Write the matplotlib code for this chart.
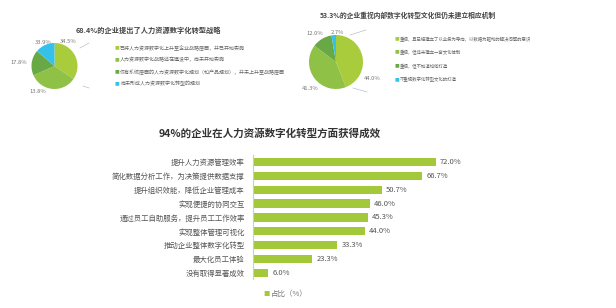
import numpy as np
import matplotlib
matplotlib.use("Agg")
import matplotlib.pyplot as plt
from matplotlib.lines import Line2D

plt.rcParams['font.family'] = ['Noto Sans CJK SC', 'DejaVu Sans']

# left pie
pie1_title = "68.4%的企业提出了人力资源数字化转型战略"
pie1_vals = [34.5, 33.9, 17.8, 13.8]
pie1_labels = ["已将人力资源数字化上升至企业战略层面，并已开始实施",
               "人力资源数字化战略还在建设中，尚未开始实施",
               "仅有系统层面的人力资源数字化规划（如产品规划），并未上升至战略层面",
               "尚未形成人力资源数字化转型的规划"]

# right pie
pie2_title = "53.3%的企业重视内部数字化转型文化但仍未建立相应机制"
pie2_vals = [44.0, 41.3, 12.0, 2.7]
pie2_labels = ["重视，且已经建立了以业务为导向，以数据为驱动的解决问题的意识",
               "重视，但还未建立一套文化体制",
               "重视，但不知道如何打造",
               "不重视数字化转型文化的打造"]

# bars
bar_title = "94%的企业在人力资源数字化转型方面获得成效"
bar_cats = ["提升人力资源管理效率", "简化数据分析工作，为决策提供数据支撑",
            "提升组织效能，降低企业管理成本", "实现便捷的协同交互",
            "通过员工自助服务，提升员工工作效率", "实现整体管理可视化",
            "推动企业整体数字化转型", "最大化员工体验", "没有取得显著成效"]
bar_vals = [72.0, 66.7, 50.7, 46.0, 45.3, 44.0, 33.3, 23.3, 6.0]
bar_legend = "占比（%）"

pie_colors = ["#a9cc3c", "#8fc147", "#68a845", "#35c1e9"]
bar_color = "#a3c83a"

W, H = 616, 308
fig = plt.figure(figsize=(W / 100, H / 100), dpi=100)
fig.patch.set_facecolor("white")


def px_axes(x0, y0, x1, y1):
    # pixel box (top-left origin) -> figure axes
    return fig.add_axes([x0 / W, 1 - y1 / H, (x1 - x0) / W, (y1 - y0) / H])


def draw_pie(cx, cy, r, vals, angles, dists):
    ax = px_axes(cx - r, cy - r, cx + r, cy + r)
    wedges, texts = ax.pie(vals, colors=pie_colors, startangle=90, counterclock=False,
                           labels=[f"{v:.1f}%" for v in vals],
                           textprops=dict(fontsize=4.2, color="#777777"))
    for t, a, d in zip(texts, angles, dists):
        t.set_position((d * np.cos(np.radians(a)), d * np.sin(np.radians(a))))
        t.set_ha("center")
        t.set_va("center")
    ax.set_xlim(-1, 1)
    ax.set_ylim(-1, 1)
    ax.set_aspect("equal")
    return ax


def draw_legend(x, ys, labels, fs):
    for y, lab, c in zip(ys, labels, pie_colors):
        fig.text(x / W, 1 - y / H, "■", color=c, fontsize=3.4, ha="left", va="center")
        fig.text((x + 5) / W, 1 - y / H, lab, color="#666666", fontsize=fs,
                 ha="left", va="center")


def line_px(x0, y0, x1, y1):
    fig.add_artist(Line2D([x0 / W, x1 / W], [1 - y0 / H, 1 - y1 / H],
                          color="#b8bfd0", lw=0.5))


# left pie
draw_pie(54.5, 66, 23, pie1_vals, [61.6, 116.6, 175, -123], [1.23, 1.12, 1.55, 1.3])
fig.text(148 / W, 1 - 30 / H, pie1_title, fontsize=5.2, fontweight="bold",
         color="#444444", ha="center", va="center")
draw_legend(115, [48, 60, 72, 84], pie1_labels, 3.6)
line_px(80, 48, 89, 43)
line_px(83, 86, 89, 88)

# right pie
draw_pie(336, 62, 27, pie2_vals, [-25, -134, 127, 88], [1.48, 1.39, 1.3, 1.11])
fig.text(408 / W, 1 - 15 / H, pie2_title, fontsize=4.9, fontweight="bold",
         color="#444444", ha="center", va="center")
draw_legend(395, [39, 52, 66, 80], pie2_labels, 3.2)
line_px(350, 35, 366, 30)
line_px(353, 88, 367, 92)

# bar chart
ax = px_axes(253, 155, 456, 278.5)
y = np.arange(len(bar_cats))
bars = ax.barh(y, bar_vals, height=0.6, color=bar_color)
ax.bar_label(bars, labels=[f"{v:.1f}%" for v in bar_vals], padding=3,
             fontsize=5.5, color="#555555")
ax.set_xlim(0, 80)
ax.set_ylim(8.4, -0.5)
ax.set_yticks(y)
ax.set_yticklabels(bar_cats, fontsize=5.35, color="#555555")
ax.tick_params(axis="y", length=0, pad=6)
ax.set_xticks([])
for s in ["top", "right", "bottom"]:
    ax.spines[s].set_visible(False)
ax.spines["left"].set_color("#cccccc")
ax.spines["left"].set_linewidth(0.8)

fig.text(270 / W, 1 - 133 / H, bar_title, fontsize=7.6, fontweight="bold",
         color="#333333", ha="center", va="center")
fig.text(266 / W, 1 - 294 / H, "■", color=bar_color, fontsize=4.5, ha="center", va="center")
fig.text(271 / W, 1 - 294 / H, bar_legend, color="#777777", fontsize=5.4,
         ha="left", va="center")

fig.savefig("out.png", dpi=100)
